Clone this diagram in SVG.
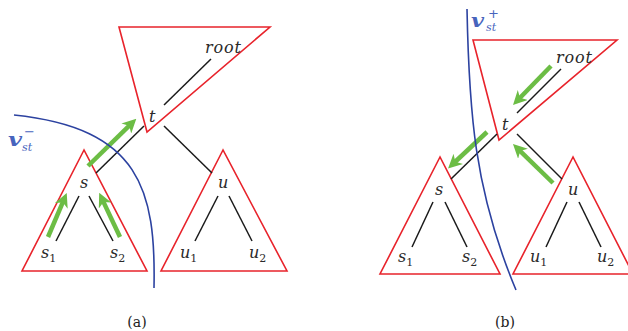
<svg xmlns="http://www.w3.org/2000/svg" width="628" height="331" viewBox="0 0 628 331">
<style>
.tri{fill:none;stroke:#e8232b;stroke-width:1.6;stroke-linejoin:miter}
.edge{stroke:#1a1a1a;stroke-width:1.5;fill:none}
.ga{stroke:#6cbd45;stroke-width:4.5;fill:none;marker-end:url(#gh)}
.cut{stroke:#2c42a0;stroke-width:1.6;fill:none}
.m{font-family:"DejaVu Serif",serif;font-style:italic;font-size:16px;fill:#2a2a2a}
.sub{font-style:normal;font-size:11px}
.v{font-family:"DejaVu Serif",serif;font-style:italic;font-weight:bold;font-size:18px;fill:#4764bd}
.vs{font-family:"DejaVu Serif",serif;font-style:italic;font-size:11px;fill:#4764bd}
.sg{font-family:"DejaVu Sans",sans-serif;font-size:13px;fill:#4764bd}
.cap{font-family:"DejaVu Serif",serif;font-size:14px;fill:#222}
</style>
<defs>
<marker id="gh" markerUnits="userSpaceOnUse" viewBox="0 0 14 14" refX="6" refY="7" markerWidth="14" markerHeight="14" orient="auto">
<path d="M0,0 L14,7 L0,14 L4,7 Z" fill="#6cbd45"/>
</marker>
</defs>
<!-- Panel (a) -->
<g id="a-top"><polygon class="tri" points="119,27 270,27 147,132"/><text class="m" x="205" y="53" textLength="36">root</text><text class="m" x="149" y="122">t</text></g>
<g id="a-s"><polygon class="tri" points="84,150 22,271 147,271"/><text class="m" x="80" y="188">s</text>
<text class="m" x="41" y="258">s<tspan class="sub" dy="4">1</tspan></text>
<text class="m" x="110" y="258">s<tspan class="sub" dy="4">2</tspan></text></g>
<g id="a-u"><polygon class="tri" points="223,150 161,271 287,271"/><text class="m" x="218" y="188">u</text>
<text class="m" x="180" y="258">u<tspan class="sub" dy="4">1</tspan></text>
<text class="m" x="249" y="258">u<tspan class="sub" dy="4">2</tspan></text></g>
<g id="a-edges">
<line class="edge" x1="211" y1="59" x2="164" y2="105"/>
<line class="edge" x1="144" y1="126" x2="96" y2="173"/>
<line class="edge" x1="164" y1="126" x2="212" y2="173"/>
<line class="edge" x1="79" y1="196" x2="56" y2="241"/>
<line class="edge" x1="89" y1="196" x2="113" y2="241"/>
<line class="edge" x1="218" y1="196" x2="195" y2="241"/>
<line class="edge" x1="229" y1="196" x2="252" y2="241"/>
</g>
<g id="a-flow">
<line class="ga" x1="88" y1="166" x2="130.6" y2="124.3"/>
<line class="ga" x1="48" y1="237" x2="63.6" y2="200.4"/>
<line class="ga" x1="120" y1="237" x2="102.6" y2="200.1"/>
</g>
<g id="a-cut"><path class="cut" d="M14,115 C140,128 156,190 154,288"/>
<text class="v" x="8" y="146" textLength="14" lengthAdjust="spacingAndGlyphs">v</text>
<text class="vs" x="22" y="151">st</text>
<text class="sg" x="24" y="136">−</text></g>
<text class="cap" x="137" y="327" text-anchor="middle">(a)</text>

<!-- Panel (b) -->
<g id="b-top"><polygon class="tri" points="473,40 617,40 499,140"/><text class="m" x="556" y="63" textLength="36">root</text><text class="m" x="502" y="130">t</text></g>
<g id="b-s"><polygon class="tri" points="440,157 380,274 500,274"/><text class="m" x="435" y="195">s</text>
<text class="m" x="398" y="262">s<tspan class="sub" dy="4">1</tspan></text>
<text class="m" x="462" y="262">s<tspan class="sub" dy="4">2</tspan></text></g>
<g id="b-u"><polygon class="tri" points="573,157 513,274 633,274"/><text class="m" x="568" y="195">u</text>
<text class="m" x="530" y="262">u<tspan class="sub" dy="4">1</tspan></text>
<text class="m" x="597" y="262">u<tspan class="sub" dy="4">2</tspan></text></g>
<g id="b-edges">
<line class="edge" x1="561" y1="69" x2="517" y2="113"/>
<line class="edge" x1="497" y1="134" x2="451" y2="179"/>
<line class="edge" x1="517" y1="134" x2="562" y2="179"/>
<line class="edge" x1="433" y1="202" x2="412" y2="247"/>
<line class="edge" x1="445" y1="202" x2="467" y2="247"/>
<line class="edge" x1="567" y1="202" x2="546" y2="247"/>
<line class="edge" x1="579" y1="202" x2="601" y2="247"/>
</g>
<g id="b-flow">
<line class="ga" x1="551" y1="66" x2="518.6" y2="99.3"/>
<line class="ga" x1="487" y1="132" x2="453.9" y2="163"/>
<line class="ga" x1="553" y1="183" x2="518.7" y2="149.6"/>
</g>
<g id="b-cut"><path class="cut" d="M467,9 C469,110 474,190 516,290"/>
<text class="v" x="471" y="27" textLength="13" lengthAdjust="spacingAndGlyphs">v</text>
<text class="vs" x="486" y="31">st</text>
<text class="sg" x="488" y="18">+</text></g>
<text class="cap" x="505" y="327" text-anchor="middle">(b)</text>
</svg>
